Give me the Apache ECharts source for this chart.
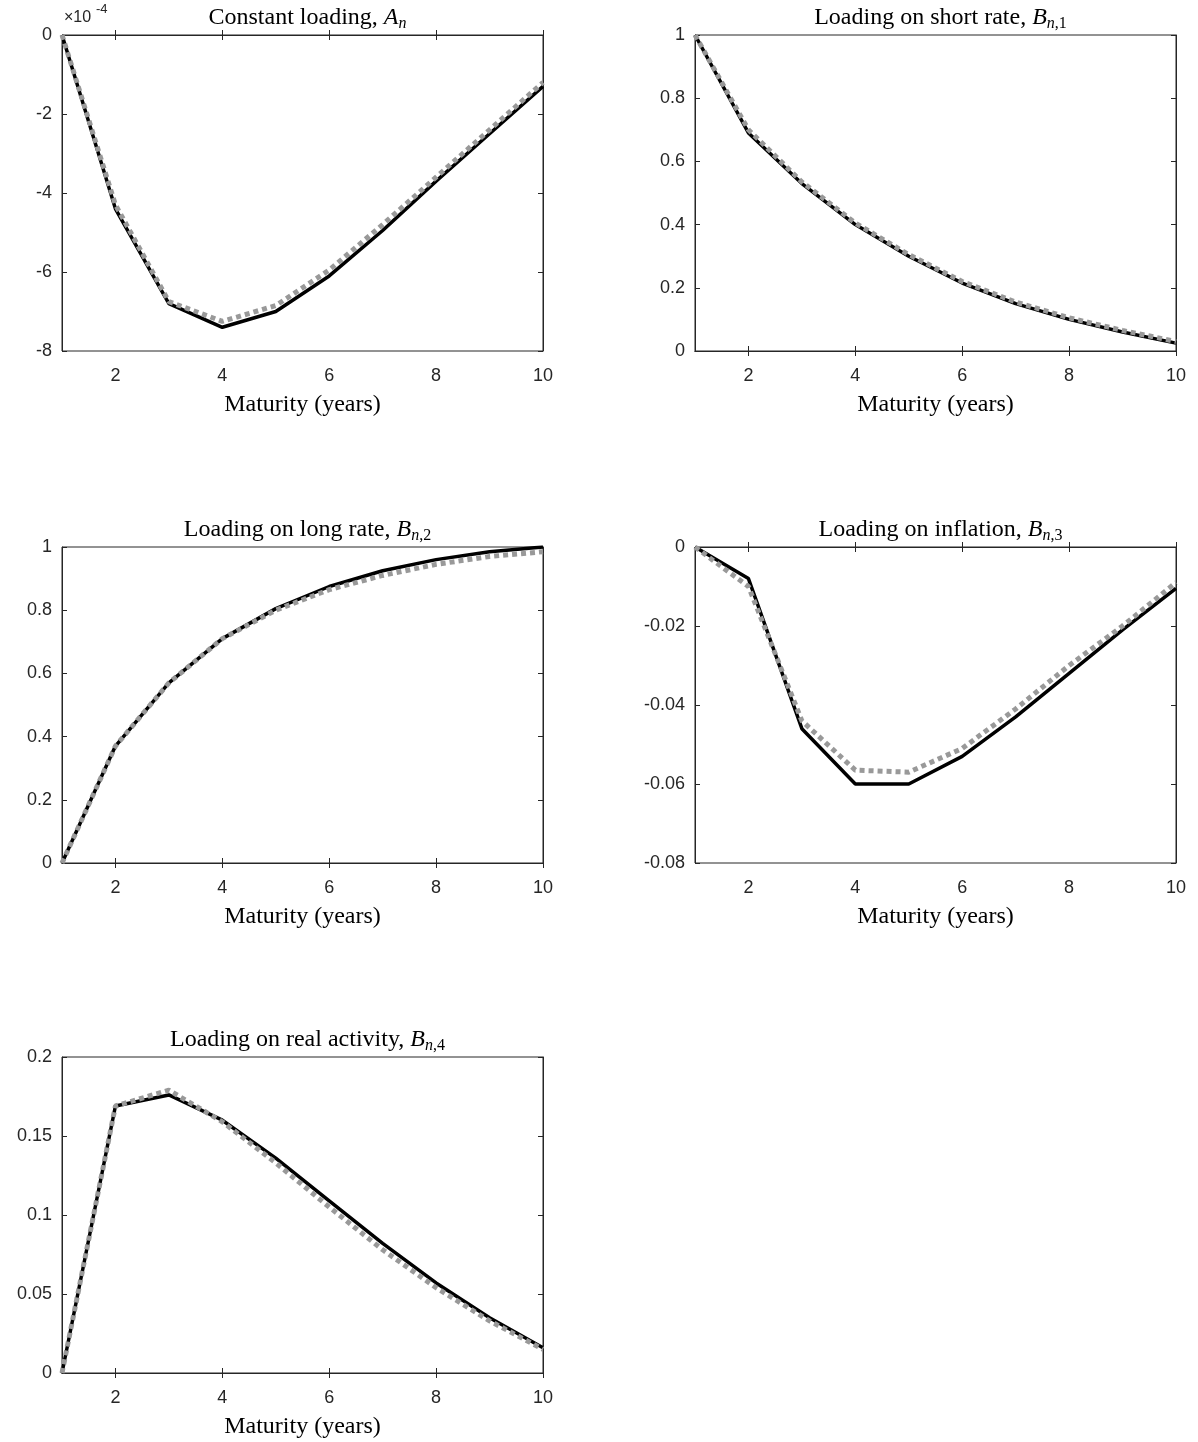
<!DOCTYPE html>
<html><head><meta charset="utf-8">
<script src="https://cdn.jsdelivr.net/npm/echarts@6/dist/echarts.min.js"></script>
<style>body{margin:0}#c{width:1198px;height:1442px}</style></head>
<body><div id="c"></div>
<script>
var maturity = [1,2,3,4,5,6,7,8,9,10];
var constBlack = [0,-4.4e-4,-6.8e-4,-7.4e-4,-7.0e-4,-6.1e-4,-4.95e-4,-3.7e-4,-2.5e-4,-1.3e-4];
var constGrey = [0,-4.3e-4,-6.75e-4,-7.25e-4,-6.85e-4,-5.95e-4,-4.8e-4,-3.6e-4,-2.4e-4,-1.2e-4];
var shortBlack = [1,0.69,0.53,0.40,0.30,0.215,0.15,0.10,0.06,0.025];
var shortGrey = [1,0.70,0.535,0.405,0.305,0.22,0.155,0.105,0.065,0.03];
var longBlack = [0,0.37,0.57,0.71,0.805,0.875,0.925,0.96,0.985,1.0];
var longGrey = [0,0.37,0.57,0.71,0.80,0.865,0.91,0.945,0.97,0.985];
var inflBlack = [0,-0.008,-0.046,-0.060,-0.060,-0.053,-0.043,-0.032,-0.021,-0.0105];
var inflGrey = [0,-0.010,-0.044,-0.0565,-0.057,-0.051,-0.041,-0.030,-0.020,-0.009];
var realBlack = [0,0.169,0.176,0.16,0.136,0.109,0.082,0.057,0.035,0.016];
var realGrey = [0,0.169,0.179,0.159,0.133,0.105,0.078,0.054,0.033,0.015];
var xTicks = [2,4,6,8,10];

var panels = [
  {title:'Constant loading, {i|A}{s|n}', b:constBlack, g:constGrey, min:-8e-4, max:0, iv:2e-4, fmt:function(v){return String(Math.round(v*1e4));}},
  {title:'Loading on short rate, {i|B}{s|n}{t|,1}', b:shortBlack, g:shortGrey, min:0, max:1, iv:0.2},
  {title:'Loading on long rate, {i|B}{s|n}{t|,2}', b:longBlack, g:longGrey, min:0, max:1, iv:0.2},
  {title:'Loading on inflation, {i|B}{s|n}{t|,3}', b:inflBlack, g:inflGrey, min:-0.08, max:0, iv:0.02},
  {title:'Loading on real activity, {i|B}{s|n}{t|,4}', b:realBlack, g:realGrey, min:0, max:0.2, iv:0.05}
];
var boxes = [[62,35],[695,35],[62,547],[695,547],[62,1057]];
var W = 481, H = 316;
var serif = 'Liberation Serif';
var opt = {animation:false, backgroundColor:'#fff', grid:[], xAxis:[], yAxis:[], series:[], title:[], graphic:[]};
panels.forEach(function(p,k){
  var L = boxes[k][0], T = boxes[k][1];
  opt.grid.push({left:L, top:T, width:W, height:H, show:true, borderColor:'#262626', borderWidth:1});
  var ax = {type:'value', gridIndex:k, min:1, max:10, splitLine:{show:false},
    axisLine:{lineStyle:{color:'#262626'}}, axisTick:{inside:true, length:5, customValues:xTicks, lineStyle:{color:'#262626'}}};
  opt.xAxis.push(Object.assign({}, ax, {position:'bottom', axisLabel:{customValues:xTicks, color:'#262626', fontSize:18, fontFamily:'Liberation Sans', margin:16}}));
  opt.xAxis.push(Object.assign({}, ax, {position:'top', axisLabel:{show:false}}));
  var ay = {type:'value', gridIndex:k, min:p.min, max:p.max, interval:p.iv, splitLine:{show:false},
    axisLine:{lineStyle:{color:'#262626'}}, axisTick:{inside:true, length:5, lineStyle:{color:'#262626'}}};
  opt.yAxis.push(Object.assign({}, ay, {position:'left', axisLabel:{color:'#262626', fontSize:18, fontFamily:'Liberation Sans', margin:10, formatter:p.fmt || function(v){return String(+v.toFixed(4));}}}));
  opt.yAxis.push(Object.assign({}, ay, {position:'right', axisLabel:{show:false}}));
  opt.series.push({type:'line', xAxisIndex:2*k, yAxisIndex:2*k, symbol:'none', z:2,
    data:maturity.map(function(m,i){return [m,p.b[i]];}), lineStyle:{color:'#000', width:3.5}});
  opt.series.push({type:'line', xAxisIndex:2*k, yAxisIndex:2*k, symbol:'none', z:3,
    data:maturity.map(function(m,i){return [m,p.g[i]];}), lineStyle:{color:'#999', width:5, type:[5,4]}});
  opt.title.push({text:p.title, left:L+W/2, top:T-36, textAlign:'center',
    textStyle:{fontFamily:serif, fontSize:24, fontWeight:'normal', color:'#000',
      rich:{i:{fontFamily:serif, fontStyle:'italic', fontSize:24},
        s:{fontFamily:serif, fontStyle:'italic', fontSize:16, verticalAlign:'bottom', padding:[12,0,0,0]},
        t:{fontFamily:serif, fontSize:16, verticalAlign:'bottom', padding:[12,0,0,0]}}}});
  opt.graphic.push({type:'text', x:L+W/2, y:T+H+42, style:{text:'Maturity (years)', font:'24px "Liberation Serif"', fill:'#000', align:'center'}});
});
opt.graphic.push({type:'text', left:64, top:10, style:{text:'×10', font:'16px "Liberation Sans"', fill:'#262626'}});
opt.graphic.push({type:'text', left:96, top:3, style:{text:'-4', font:'13px "Liberation Sans"', fill:'#262626'}});
echarts.init(document.getElementById('c')).setOption(opt);
</script></body></html>
